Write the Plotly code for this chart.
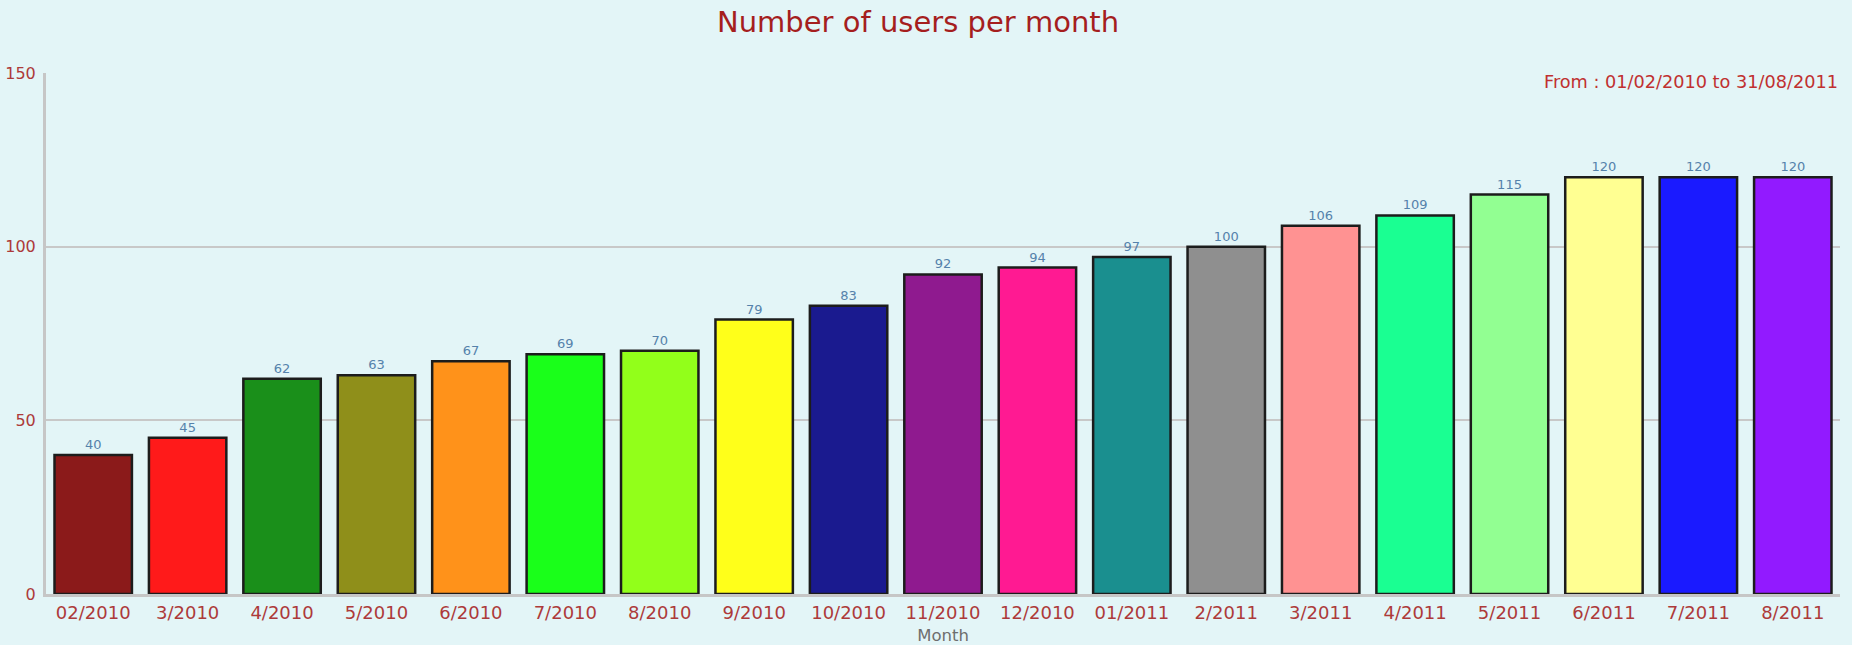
import plotly.graph_objects as go

# Monthly user counts
months = ["02/2010", "3/2010", "4/2010", "5/2010", "6/2010", "7/2010", "8/2010",
          "9/2010", "10/2010", "11/2010", "12/2010", "01/2011", "2/2011", "3/2011",
          "4/2011", "5/2011", "6/2011", "7/2011", "8/2011"]
users = [40, 45, 62, 63, 67, 69, 70, 79, 83, 92, 94, 97, 100, 106, 109, 115, 120, 120, 120]
bar_colors = ["#8b1a1a", "#ff1a1a", "#1a8f1a", "#8f8f1a", "#ff921a", "#1aff1a", "#92ff1a",
              "#ffff1a", "#1a1a8f", "#8f1a8f", "#ff1a92", "#1a8f8f", "#8f8f8f", "#ff9292",
              "#1aff92", "#92ff92", "#ffff92", "#1a1aff", "#921aff"]
y_ticks = [0, 50, 100, 150]

FONT = "DejaVu Sans"
RED = "#ad3a3a"

fig = go.Figure(
    go.Bar(
        x=months,
        y=users,
        marker=dict(color=bar_colors, line=dict(color="#1c1c1c", width=2.5)),
        text=[str(v) for v in users],
        textposition="outside",
        cliponaxis=False,
        textfont=dict(family=FONT, size=13, color="#5582ab"),
        hoverinfo="x+y",
    )
)

fig.update_layout(
    width=1852,
    height=645,
    margin=dict(l=46, r=12, t=73, b=51),
    paper_bgcolor="#e3f5f7",
    plot_bgcolor="rgba(0,0,0,0)",
    bargap=0.18,
    showlegend=False,
    title=dict(
        text="Number of users per month",
        x=0.4957, xanchor="center",
        y=0.966, yanchor="middle",
        font=dict(family=FONT, size=29, color="#a51e1e"),
    ),
    xaxis=dict(
        automargin=False,
        showline=True, linecolor="#c6c6c6", linewidth=3,
        showgrid=False, ticks="",
        tickfont=dict(family=FONT, size=18, color=RED),
        title=dict(text="Month", standoff=8,
                   font=dict(family=FONT, size=16.5, color="#6e6e6e")),
    ),
    yaxis=dict(
        automargin=False,
        range=[0, 150],
        tickvals=y_ticks,
        showline=True, linecolor="#c6c6c6", linewidth=3,
        showgrid=True, gridcolor="#c8c8c8", gridwidth=2,
        zeroline=False, ticks="",
        ticklabelstandoff=4,
        tickfont=dict(family=FONT, size=16, color=RED),
    ),
    annotations=[
        dict(
            text="From : 01/02/2010 to 31/08/2011",
            xref="paper", yref="paper",
            x=1, y=0.983, xanchor="right", yanchor="middle",
            showarrow=False,
            font=dict(family=FONT, size=17.7, color="#c03030"),
        )
    ],
)

fig.write_html("out.html")
